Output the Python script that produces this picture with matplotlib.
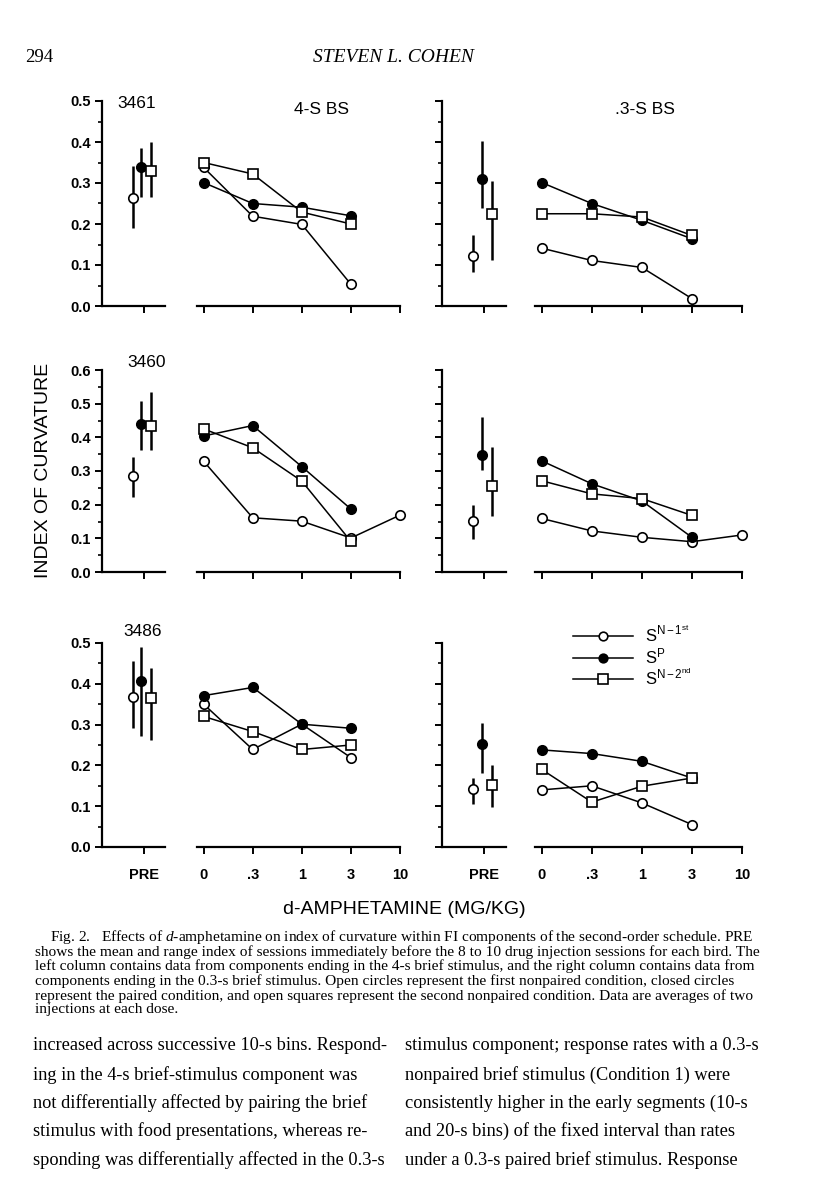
import matplotlib
matplotlib.use("Agg")
import matplotlib.pyplot as plt
from matplotlib.lines import Line2D
from matplotlib.ticker import MultipleLocator
import numpy as np

plt.rcParams['font.family'] = ['Liberation Sans', 'DejaVu Sans']
plt.rcParams['mathtext.fontset'] = 'custom'
plt.rcParams['mathtext.rm'] = 'Liberation Sans'
plt.rcParams['mathtext.it'] = 'Liberation Serif:italic'

# ---------------- data ----------------
dose_labels = ["0", ".3", "1", "3", "10"]
series_names = [r"$\mathregular{S^{N-1^{st}}}$", r"$\mathregular{S^{P}}$", r"$\mathregular{S^{N-2^{nd}}}$"]

# bird 3461, 4-s brief stimulus
b3461_4s_pre_mean = [0.263, 0.340, 0.330]
b3461_4s_pre_lo = [0.190, 0.267, 0.267]
b3461_4s_pre_hi = [0.342, 0.385, 0.401]
b3461_4s_sn1 = [0.338, 0.219, 0.199, 0.053]
b3461_4s_sp = [0.301, 0.250, 0.241, 0.220]
b3461_4s_sn2 = [0.350, 0.322, 0.229, 0.200]

# bird 3461, 0.3-s brief stimulus
b3461_03s_pre_mean = [0.123, 0.309, 0.225]
b3461_03s_pre_lo = [0.082, 0.238, 0.113]
b3461_03s_pre_hi = [0.172, 0.402, 0.305]
b3461_03s_sn1 = [0.141, 0.111, 0.094, 0.018]
b3461_03s_sp = [0.301, 0.250, 0.209, 0.164]
b3461_03s_sn2 = [0.225, 0.225, 0.217, 0.172]

# bird 3460, 4-s
b3460_4s_pre_mean = [0.285, 0.441, 0.434]
b3460_4s_pre_lo = [0.223, 0.362, 0.362]
b3460_4s_pre_hi = [0.342, 0.509, 0.536]
b3460_4s_sn1 = [0.329, 0.161, 0.151, 0.101, 0.169]
b3460_4s_sp = [0.404, 0.435, 0.313, 0.187]
b3460_4s_sn2 = [0.425, 0.369, 0.270, 0.091]

# bird 3460, 0.3-s
b3460_03s_pre_mean = [0.151, 0.347, 0.254]
b3460_03s_pre_lo = [0.098, 0.303, 0.166]
b3460_03s_pre_hi = [0.200, 0.460, 0.372]
b3460_03s_sn1 = [0.159, 0.122, 0.103, 0.090, 0.110]
b3460_03s_sp = [0.330, 0.262, 0.211, 0.103]
b3460_03s_sn2 = [0.271, 0.232, 0.218, 0.168]

# bird 3486, 4-s
b3486_4s_pre_mean = [0.367, 0.408, 0.365]
b3486_4s_pre_lo = [0.291, 0.273, 0.262]
b3486_4s_pre_hi = [0.455, 0.490, 0.439]
b3486_4s_sn1 = [0.350, 0.239, 0.301, 0.219]
b3486_4s_sp = [0.371, 0.391, 0.301, 0.291]
b3486_4s_sn2 = [0.320, 0.283, 0.239, 0.250]

# bird 3486, 0.3-s
b3486_03s_pre_mean = [0.141, 0.252, 0.151]
b3486_03s_pre_lo = [0.106, 0.181, 0.098]
b3486_03s_pre_hi = [0.169, 0.305, 0.201]
b3486_03s_sn1 = [0.140, 0.150, 0.108, 0.055]
b3486_03s_sp = [0.238, 0.229, 0.210, 0.169]
b3486_03s_sn2 = [0.190, 0.110, 0.149, 0.169]

birds = ["3461", "3460", "3486"]
row_ymax = [0.5, 0.6, 0.5]

caption_lines = [
    "Fig. 2.   Effects of $\\mathit{d}$-amphetamine on index of curvature within FI components of the second-order schedule. PRE",
    "shows the mean and range index of sessions immediately before the 8 to 10 drug injection sessions for each bird. The",
    "left column contains data from components ending in the 4-s brief stimulus, and the right column contains data from",
    "components ending in the 0.3-s brief stimulus. Open circles represent the first nonpaired condition, closed circles",
    "represent the paired condition, and open squares represent the second nonpaired condition. Data are averages of two",
    "injections at each dose.",
]
body_left = [
    "increased across successive 10-s bins. Respond-",
    "ing in the 4-s brief-stimulus component was",
    "not differentially affected by pairing the brief",
    "stimulus with food presentations, whereas re-",
    "sponding was differentially affected in the 0.3-s",
]
body_right = [
    "stimulus component; response rates with a 0.3-s",
    "nonpaired brief stimulus (Condition 1) were",
    "consistently higher in the early segments (10-s",
    "and 20-s bins) of the fixed interval than rates",
    "under a 0.3-s paired brief stimulus. Response",
]

panels = [
    [(b3461_4s_pre_mean, b3461_4s_pre_lo, b3461_4s_pre_hi, b3461_4s_sn1, b3461_4s_sp, b3461_4s_sn2),
     (b3461_03s_pre_mean, b3461_03s_pre_lo, b3461_03s_pre_hi, b3461_03s_sn1, b3461_03s_sp, b3461_03s_sn2)],
    [(b3460_4s_pre_mean, b3460_4s_pre_lo, b3460_4s_pre_hi, b3460_4s_sn1, b3460_4s_sp, b3460_4s_sn2),
     (b3460_03s_pre_mean, b3460_03s_pre_lo, b3460_03s_pre_hi, b3460_03s_sn1, b3460_03s_sp, b3460_03s_sn2)],
    [(b3486_4s_pre_mean, b3486_4s_pre_lo, b3486_4s_pre_hi, b3486_4s_sn1, b3486_4s_sp, b3486_4s_sn2),
     (b3486_03s_pre_mean, b3486_03s_pre_lo, b3486_03s_pre_hi, b3486_03s_sn1, b3486_03s_sp, b3486_03s_sn2)],
]

# ---------------- layout ----------------
W, H = 816, 1200
fig = plt.figure(figsize=(8.16, 12), dpi=100)
fig.patch.set_facecolor("white")
renderer = fig.canvas.get_renderer()


def rect(x0, y0, x1, y1):
    return [x0 / W, 1 - y1 / H, (x1 - x0) / W, (y1 - y0) / H]


def ftext(x, y, s, **kw):
    return fig.text(x / W, 1 - y / H, s, **kw)


def fit_size(s, target, family, base=10.0):
    t = fig.text(0, 0, s, fontsize=base, family=family)
    w = t.get_window_extent(renderer).width
    t.remove()
    return base * target / w


row_y = [(101, 306), (370, 572), (643, 847)]
col_pre_x = [(102, 165), (442, 506)]
col_dose_x = [(197, 400), (535, 742)]
pre_tick = 0.66
pre_pos = [0.49, 0.62, 0.78]
styles = [dict(marker="o", mfc="white", ms=6.8),
          dict(marker="o", mfc="black", ms=6.8),
          dict(marker="s", mfc="white", ms=7.2)]
draw_order = [0, 1, 2]
tickfont = dict(family="Liberation Sans", weight="bold", size=10.5)

for r in range(3):
    y0, y1 = row_y[r]
    for c in range(2):
        pre_mean, pre_lo, pre_hi, sn1, sp, sn2 = panels[r][c]
        dose_series = [sn1, sp, sn2]
        # ---- PRE axes ----
        axp = fig.add_axes(rect(col_pre_x[c][0], y0, col_pre_x[c][1], y1))
        axp.set_xlim(0, 1)
        axp.set_ylim(0, row_ymax[r])
        axp.patch.set_alpha(0)
        for s in ["top", "right"]:
            axp.spines[s].set_visible(False)
        axp.spines["left"].set_linewidth(1.6)
        axp.spines["bottom"].set_linewidth(1.6)
        axp.yaxis.set_major_locator(MultipleLocator(0.1))
        axp.yaxis.set_minor_locator(MultipleLocator(0.05))
        axp.tick_params(axis="y", which="major", length=5, width=1.4, direction="out", pad=3)
        axp.tick_params(axis="y", which="minor", length=3, width=1.2, direction="out")
        axp.tick_params(axis="x", length=5, width=1.4, direction="out", pad=10)
        axp.set_xticks([pre_tick])
        axp.set_xticklabels(["PRE"] if r == 2 else [""], fontdict=tickfont)
        yt = np.arange(0, row_ymax[r] + 0.001, 0.1)
        axp.set_yticks(yt)
        if c == 0:
            axp.set_yticklabels([f"{v:.1f}" for v in yt], fontdict=tickfont)
        else:
            axp.set_yticklabels([])
        for i in draw_order:
            st = styles[i]
            axp.errorbar([pre_pos[i]], [pre_mean[i]],
                         yerr=[[pre_mean[i] - pre_lo[i]], [pre_hi[i] - pre_mean[i]]],
                         fmt=st["marker"], mfc=st["mfc"], mec="black", ms=st["ms"], mew=1.2,
                         ecolor="black", elinewidth=1.8, capsize=0, clip_on=False, zorder=3)
        # ---- dose axes ----
        axd = fig.add_axes(rect(col_dose_x[c][0], y0, col_dose_x[c][1], y1))
        axd.set_xlim(-0.135, 4.0)
        axd.set_ylim(0, row_ymax[r])
        axd.patch.set_alpha(0)
        for s in ["top", "right", "left"]:
            axd.spines[s].set_visible(False)
        axd.spines["bottom"].set_linewidth(1.6)
        axd.set_yticks([])
        axd.set_xticks(range(len(dose_labels)))
        axd.set_xticklabels(dose_labels if r == 2 else [""] * 5, fontdict=tickfont)
        axd.tick_params(axis="x", length=5, width=1.4, direction="out", pad=10)
        for i in draw_order:
            st = styles[i]
            vals = dose_series[i]
            axd.plot(range(len(vals)), vals, color="black", lw=1.1, marker=st["marker"],
                     mfc=st["mfc"], mec="black", ms=st["ms"], mew=1.2, clip_on=False, zorder=3)
        if r == 2 and c == 1:
            handles = [Line2D([], [], color="black", lw=1.1, marker=styles[i]["marker"],
                              mfc=styles[i]["mfc"], mec="black", ms=styles[i]["ms"] - 0.6, mew=1.2)
                       for i in range(3)]
            fig.legend(handles, series_names, loc="upper left",
                       bbox_to_anchor=(573 / W, 1 - 625 / H), frameon=False,
                       borderpad=0, borderaxespad=0, handlelength=3.6, handletextpad=0.7,
                       labelspacing=0.08, prop=dict(family="Liberation Sans", size=12))

# panel labels
ftext(137, 104, "3461", ha="center", va="center", fontsize=12.5)
ftext(147, 362, "3460", ha="center", va="center", fontsize=12.5)
ftext(143, 632, "3486", ha="center", va="center", fontsize=12.5)
ftext(322, 109, "4-S BS", ha="center", va="center", fontsize=12.5)
ftext(645, 110, ".3-S BS", ha="center", va="center", fontsize=12.5)

# axis labels
ftext(44, 470, "INDEX OF CURVATURE", rotation=90, ha="center", va="center", fontsize=14)
ftext(404, 910, "d-AMPHETAMINE (MG/KG)", ha="center", va="center", fontsize=14)

# page header
ftext(25, 57, "294", ha="left", va="center", fontsize=13.5, family="Liberation Serif")
ftext(393, 57, "STEVEN L. COHEN", ha="center", va="center", fontsize=14,
      family="Liberation Serif", style="italic")

# caption
cap_size = fit_size(caption_lines[1], 720, "Liberation Serif")
cap_y = [937, 952, 966, 981, 996, 1010]
for k, line in enumerate(caption_lines):
    x = 50 if k == 0 else 35
    ftext(x, cap_y[k], line, ha="left", va="center", fontsize=cap_size, family="Liberation Serif")

# body text
body_size = fit_size(body_left[0], 352, "Liberation Serif")
body_y = [1046, 1075, 1103, 1131, 1160]
for k in range(5):
    ftext(33, body_y[k], body_left[k], ha="left", va="center", fontsize=body_size, family="Liberation Serif")
    ftext(405, body_y[k], body_right[k], ha="left", va="center", fontsize=body_size, family="Liberation Serif")

fig.savefig("out.png", dpi=100, facecolor="white")
